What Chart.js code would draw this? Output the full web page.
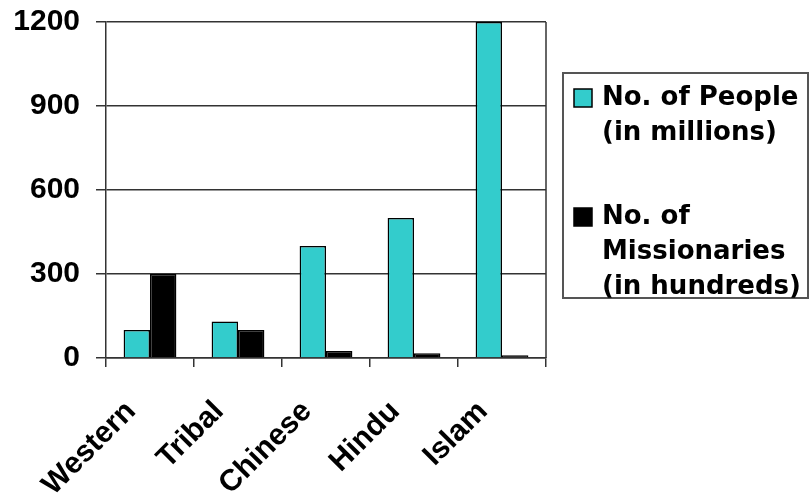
<!DOCTYPE html>
<html>
<head>
<meta charset="utf-8">
<script src="https://cdn.jsdelivr.net/npm/chart.js@4.4.1/dist/chart.umd.min.js"></script>
<style>
  html, body { margin: 0; padding: 0; background: #fff; }
  #wrap { width: 810px; height: 495px; position: relative; }
</style>
</head>
<body>
<div id="wrap"><canvas id="chart"></canvas></div>
<script>
// data
const categories = ['Western', 'Tribal', 'Chinese', 'Hindu', 'Islam'];
const people = [100, 130, 400, 500, 1200];        // in millions
const missionaries = [300, 100, 25, 17, 10];      // in hundreds
const seriesNames = [['No. of People', '(in millions)'], ['No. of', 'Missionaries', '(in hundreds)']];
const yTicks = [0, 300, 600, 900, 1200];

const CYAN = '#33cccc';
const AXIS = '#333';
const yFont = { family: '"Liberation Sans", Arial, sans-serif', size: 30, weight: 'bold' };
const xFont = { family: '"Liberation Sans", Arial, sans-serif', size: 30, weight: 'bold' };

// right border of plot + boxed legend
const frameAndLegend = {
    id: 'frameAndLegend',
    afterDraw(chart) {
        const ctx = chart.ctx;
        const a = chart.chartArea;
        ctx.save();
        ctx.strokeStyle = AXIS;
        ctx.lineWidth = 1.5;
        ctx.beginPath();
        ctx.moveTo(a.right, a.top);
        ctx.lineTo(a.right, a.bottom);
        ctx.stroke();

        // legend box
        ctx.strokeStyle = '#555';
        ctx.lineWidth = 2;
        ctx.strokeRect(563, 73, 245, 225);

        ctx.font = 'bold 26px "DejaVu Sans", sans-serif';
        ctx.textBaseline = 'middle';
        const starts = [98, 217];
        chart.data.datasets.forEach((ds, i) => {
            const y0 = starts[i];
            ctx.fillStyle = ds.backgroundColor;
            ctx.fillRect(574, y0 - 9, 18, 18);
            ctx.strokeStyle = '#000';
            ctx.lineWidth = 1.5;
            ctx.strokeRect(574, y0 - 9, 18, 18);
            ctx.fillStyle = '#000';
            seriesNames[i].forEach((line, j) => {
                ctx.fillText(line, 602, y0 + j * 35);
            });
        });
        ctx.restore();
    }
};

new Chart(document.getElementById('chart'), {
    type: 'bar',
    data: {
        labels: categories,
        datasets: [
            {
                label: seriesNames[0].join(' '),
                data: people,
                backgroundColor: CYAN,
                borderColor: '#000',
                borderWidth: 1.5,
                categoryPercentage: 0.6,
                barPercentage: 1.0
            },
            {
                label: seriesNames[1].join(' '),
                data: missionaries,
                backgroundColor: '#000',
                borderColor: '#000',
                borderWidth: 1.5,
                categoryPercentage: 0.6,
                barPercentage: 1.0
            }
        ]
    },
    options: {
        responsive: true,
        maintainAspectRatio: false,
        animation: false,
        layout: { padding: { top: 22, right: 264, left: 0, bottom: 0 } },
        plugins: {
            legend: { display: false },
            tooltip: { enabled: false }
        },
        scales: {
            x: {
                grid: { display: true, drawOnChartArea: false, drawTicks: true, tickLength: 9, color: AXIS, lineWidth: 1.5 },
                border: { display: true, color: AXIS, width: 1.5 },
                ticks: {
                    color: '#000',
                    font: xFont,
                    minRotation: 45,
                    maxRotation: 45,
                    autoSkip: false,
                    padding: 27,
                    labelOffset: -19
                },
                afterFit: s => { s.height = 137; s.paddingLeft = 0; s.paddingRight = 0; }
            },
            y: {
                min: 0,
                max: 1200,
                afterBuildTicks: s => { s.ticks = yTicks.map(v => ({ value: v })); },
                grid: { color: AXIS, lineWidth: 1.5, tickLength: 10 },
                border: { display: true, color: AXIS, width: 1.5 },
                ticks: { color: '#000', font: yFont, padding: 16, callback: v => String(v) },
                afterFit: s => { s.width = 106; s.paddingTop = 0; s.paddingBottom = 0; }
            }
        }
    },
    plugins: [frameAndLegend]
});
</script>
</body>
</html>
